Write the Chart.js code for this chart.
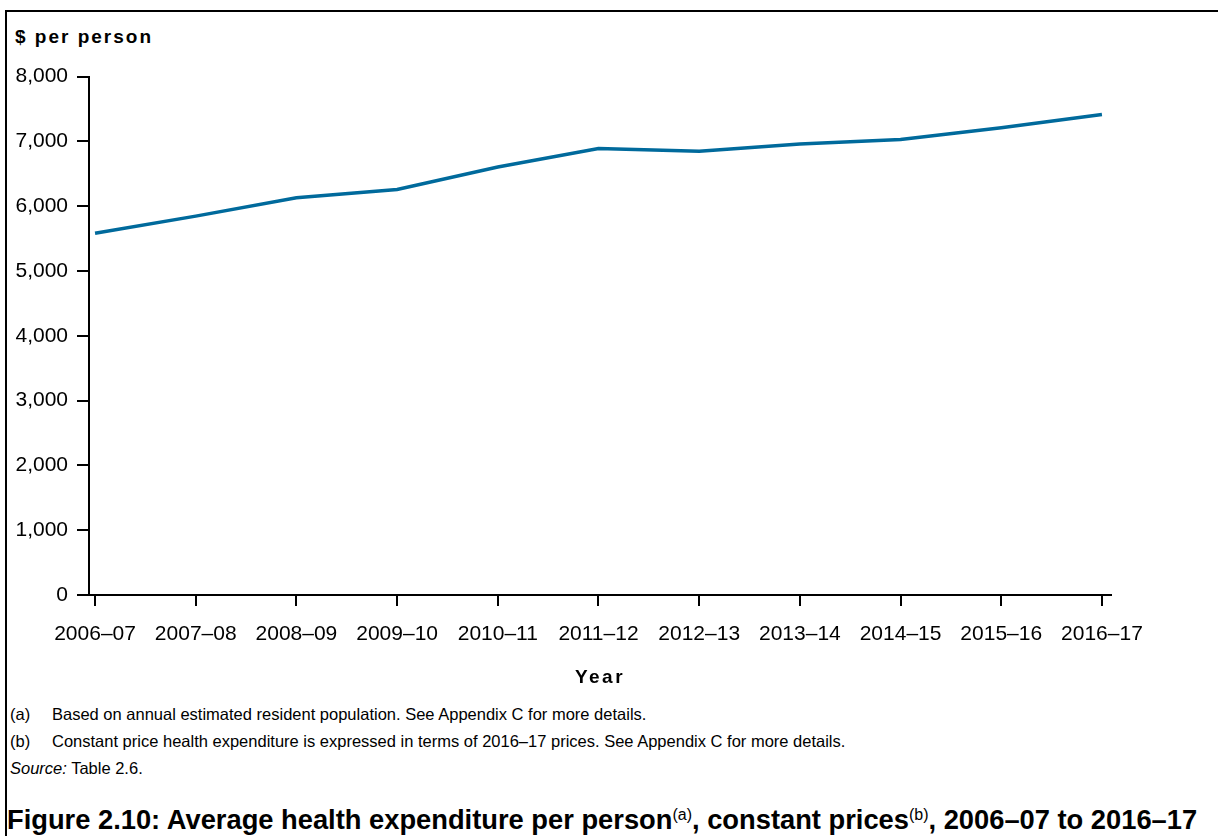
<!DOCTYPE html>
<html>
<head>
<meta charset="utf-8">
<script src="https://cdn.jsdelivr.net/npm/chart.js@4/dist/chart.umd.min.js"></script>
<style>
  body { margin: 0; width: 1218px; height: 836px; position: relative; overflow: hidden; background: #fff;
         font-family: "Liberation Sans", Arial, sans-serif; color: #000; }
  .frame { position: absolute; left: 5px; top: 10px; width: 1300px; height: 900px;
           border-top: 2px solid #000; border-left: 2px solid #000; }
  .ytitle { position: absolute; left: 15px; top: 26px; font-size: 19px; font-weight: bold; letter-spacing: 2px; line-height: 22px; }
  .xtitle { position: absolute; left: 0; width: 1200px; top: 666px; text-align: center; font-size: 19px; font-weight: bold; letter-spacing: 2.5px; line-height: 22px; }
  #wrap { position: absolute; left: 0; top: 55px; width: 1218px; height: 633px; }
  .note { position: absolute; left: 10px; font-size: 16.5px; line-height: 20px; white-space: nowrap; }
  .note span.lbl { display: inline-block; width: 42px; }
  .caption { position: absolute; left: 7px; top: 799px; font-size: 27.3px; font-weight: bold; line-height: 32px; white-space: nowrap; }
  .caption sup { font-size: 16px; font-weight: normal; vertical-align: 9px; }
</style>
</head>
<body>
<div class="frame"></div>
<div class="ytitle">$ per person</div>
<div id="wrap"><canvas id="chart"></canvas></div>
<div class="xtitle">Year</div>
<div class="note" style="top:704px"><span class="lbl">(a)</span>Based on annual estimated resident population. See Appendix C for more details.</div>
<div class="note" style="top:731px"><span class="lbl">(b)</span>Constant price health expenditure is expressed in terms of 2016–17 prices. See Appendix C for more details.</div>
<div class="note" style="top:758px"><i>Source:</i> Table 2.6.</div>
<div class="caption">Figure 2.10: Average health expenditure per person<sup>(a)</sup>, constant prices<sup>(b)</sup>, 2006–07 to 2016–17</div>
<script>
const years = ["2006–07", "2007–08", "2008–09", "2009–10", "2010–11", "2011–12",
               "2012–13", "2013–14", "2014–15", "2015–16", "2016–17"];
const perPerson = [5584, 5847, 6130, 6259, 6605, 6889, 6847, 6961, 7028, 7209, 7415];
const yTicks = [0, 1000, 2000, 3000, 4000, 5000, 6000, 7000, 8000];

const chart = new Chart(document.getElementById("chart"), {
    type: 'line',
    data: {
        datasets: [{
            label: "Average health expenditure per person",
            data: perPerson.map((v, i) => ({ x: i, y: v })),
            borderColor: '#006a9c',
            borderWidth: 3.5,
            pointRadius: 0,
            tension: 0,
        }],
    },
    options: {
        responsive: true,
        maintainAspectRatio: false,
        animation: false,
        layout: { padding: { top: 0, right: 107, left: 0, bottom: 0 } },
        plugins: { legend: { display: false }, tooltip: { enabled: false } },
        scales: {
            x: {
                type: 'linear',
                min: -0.06,
                max: 10.09,
                afterBuildTicks: scale => { scale.ticks = years.map((y, i) => ({ value: i })); },
                afterFit: scale => { scale.height = 93; },
                grid: { drawOnChartArea: false, drawTicks: true, tickLength: 11, color: '#000', lineWidth: 2 },
                border: { display: true, color: '#000', width: 2 },
                ticks: {
                    autoSkip: false, maxRotation: 0, padding: 16, color: '#000',
                    font: { family: 'Liberation Sans', size: 21 },
                    callback: v => years[v],
                },
            },
            y: {
                min: 0,
                max: 8000,
                afterBuildTicks: scale => { scale.ticks = yTicks.map(v => ({ value: v })); },
                afterFit: scale => { scale.width = 89; },
                grid: { drawOnChartArea: false, drawTicks: true, tickLength: 12, color: '#000', lineWidth: 2 },
                border: { display: true, color: '#000', width: 2 },
                ticks: {
                    padding: 9, color: '#000',
                    font: { family: 'Liberation Sans', size: 21 },
                    callback: v => v.toLocaleString('en-US'),
                },
            },
        },
    },
});
</script>
</body>
</html>
